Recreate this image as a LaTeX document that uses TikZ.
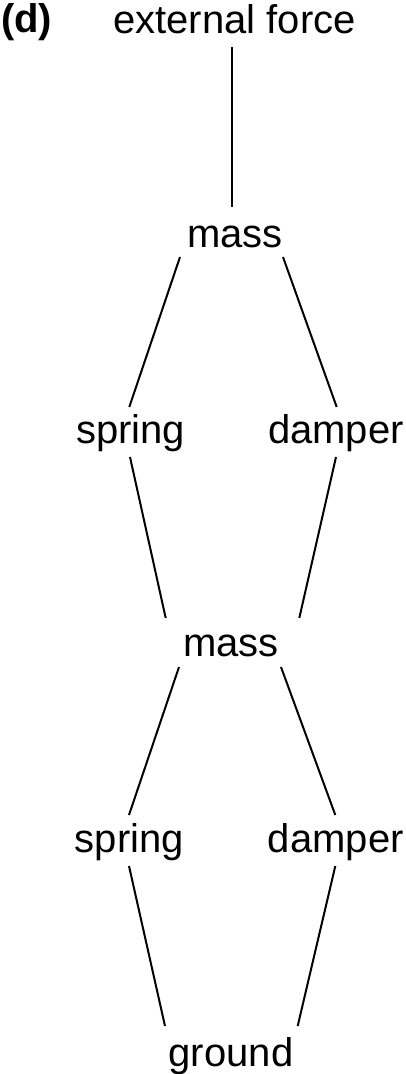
\documentclass[tikz,border=0pt]{standalone}
\usepackage{fontspec}
\setmainfont{Liberation Sans}
\usetikzlibrary{calc}
\tikzset{
  lbl/.style={inner sep=0pt, anchor=base, font=\fontsize{40}{44}\selectfont},
  tag/.style={inner sep=0pt, anchor=base west, font=\fontsize{40}{44}\selectfont\bfseries},
  link/.style={line width=2pt, black}
}
\begin{document}
\begin{tikzpicture}[x=1pt, y=-1pt]
  \useasboundingbox (0,0) rectangle (406,1074);

  % labels
  \node[tag] (d) at (1,32) {(d)};
  \node[lbl] (ef) at (234.5,33) {external force};
  \node[lbl] (m1) at (235,247) {mass};
  \node[lbl] (s1) at (130.7,443) {spring};
  \node[lbl] (dp1) at (336,443) {damper};
  \node[lbl] (m2) at (231,656) {mass};
  \node[lbl] (s2) at (129.3,852) {spring};
  \node[lbl] (dp2) at (335.8,852) {damper};
  \node[lbl] (g) at (231,1066) {ground};

  % connections
  \draw[link] ($(ef.base)+(-2.5,14)$) -- ($(m1.base)+(-3,-40)$);
  \draw[link] ($(m1.base)+(-55,10)$) -- ($(s1.base)+(-1.4,-36)$);
  \draw[link] ($(m1.base)+(48,10)$) -- ($(dp1.base)+(0.7,-36)$);
  \draw[link] ($(s1.base)+(-0.7,14)$) -- ($(m2.base)+(-65.3,-38)$);
  \draw[link] ($(dp1.base)+(0,14)$) -- ($(m2.base)+(68.3,-38)$);
  \draw[link] ($(m2.base)+(-52,11)$) -- ($(s2.base)+(-0.3,-37)$);
  \draw[link] ($(m2.base)+(50,11)$) -- ($(dp2.base)+(-0.5,-37)$);
  \draw[link] ($(s2.base)+(-0.3,14)$) -- ($(g.base)+(-66,-40)$);
  \draw[link] ($(dp2.base)+(-0.5,14)$) -- ($(g.base)+(66.7,-40)$);
\end{tikzpicture}
\end{document}
